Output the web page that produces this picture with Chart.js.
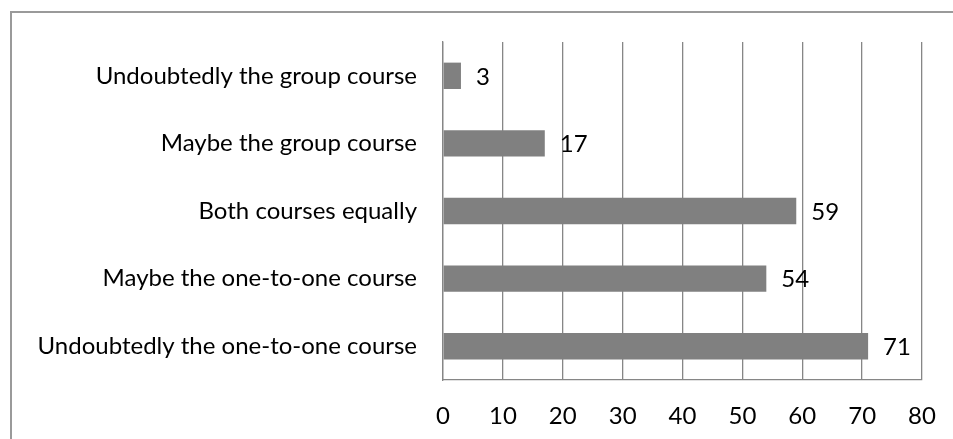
<!DOCTYPE html>
<html>
<head>
<meta charset="utf-8">
<script src="https://cdn.jsdelivr.net/npm/chart.js@4"></script>
<style>
  body { margin: 0; background: #fff; }
  #wrap { position: relative; width: 953px; height: 439px; overflow: hidden; }
  #frame { position: absolute; left: 10px; top: 11px; width: 1000px; height: 500px;
           border-left: 2px solid #9a9a9a; border-top: 2px solid #9a9a9a; }
  #myChart { position: absolute; left: 0; top: 0; }
</style>
</head>
<body>
<div id="wrap">
  <div id="frame"></div>
  <canvas id="myChart" width="953" height="439"></canvas>
</div>
<script>
// categories, top to bottom as in the picture
const labels = [
    'Undoubtedly the group course',
    'Maybe the group course',
    'Both courses equally',
    'Maybe the one-to-one course',
    'Undoubtedly the one-to-one course'
];
const values = [3, 17, 59, 54, 71];
const xTicks = [0, 10, 20, 30, 40, 50, 60, 70, 80];

const fontFamily = "Lato, 'Open Sans', sans-serif";
const fontSize = 24;

// writes the value just right of each bar
const valueLabels = {
    id: 'valueLabels',
    afterDatasetsDraw(chart) {
        const ctx = chart.ctx;
        const meta = chart.getDatasetMeta(0);
        ctx.save();
        ctx.font = fontSize + 'px ' + fontFamily;
        ctx.fillStyle = '#000';
        ctx.textAlign = 'left';
        ctx.textBaseline = 'middle';
        meta.data.forEach((bar, i) => {
            ctx.fillText(String(values[i]), bar.x + 15, bar.y + 1);
        });
        ctx.restore();
    }
};

var ctx = document.getElementById('myChart');
var chart = new Chart(ctx, {
    type: 'bar',
    data: {
        labels: labels,
        datasets: [
            {
                data: values,
                backgroundColor: '#808080',
                borderWidth: 0,
                categoryPercentage: 0.78,
                barPercentage: 0.5
            }
        ]
    },
    options: {
        indexAxis: 'y',
        responsive: false,
        animation: false,
        layout: { padding: { top: 42, right: 31, left: 0, bottom: 0 } },
        scales: {
            x: {
                min: 0,
                max: 80,
                afterBuildTicks: (axis) => { axis.ticks = xTicks.map(v => ({ value: v })); },
                afterFit: (axis) => {
                    axis.height = 59;
                    axis.paddingLeft = 0;
                    axis.paddingRight = 0;
                },
                grid: { color: '#868686', lineWidth: 1.3, drawTicks: false },
                border: { color: '#868686', width: 1.3 },
                ticks: {
                    color: '#000',
                    padding: 22,
                    font: { family: fontFamily, size: fontSize }
                }
            },
            y: {
                afterFit: (axis) => { axis.width = 443; },
                grid: { display: false, drawTicks: false },
                border: { color: '#868686', width: 1.3 },
                ticks: {
                    color: '#000',
                    padding: 26,
                    font: { family: fontFamily, size: fontSize }
                }
            }
        },
        plugins: {
            legend: { display: false },
            tooltip: { enabled: false }
        }
    },
    plugins: [valueLabels]
});
</script>
</body>
</html>
